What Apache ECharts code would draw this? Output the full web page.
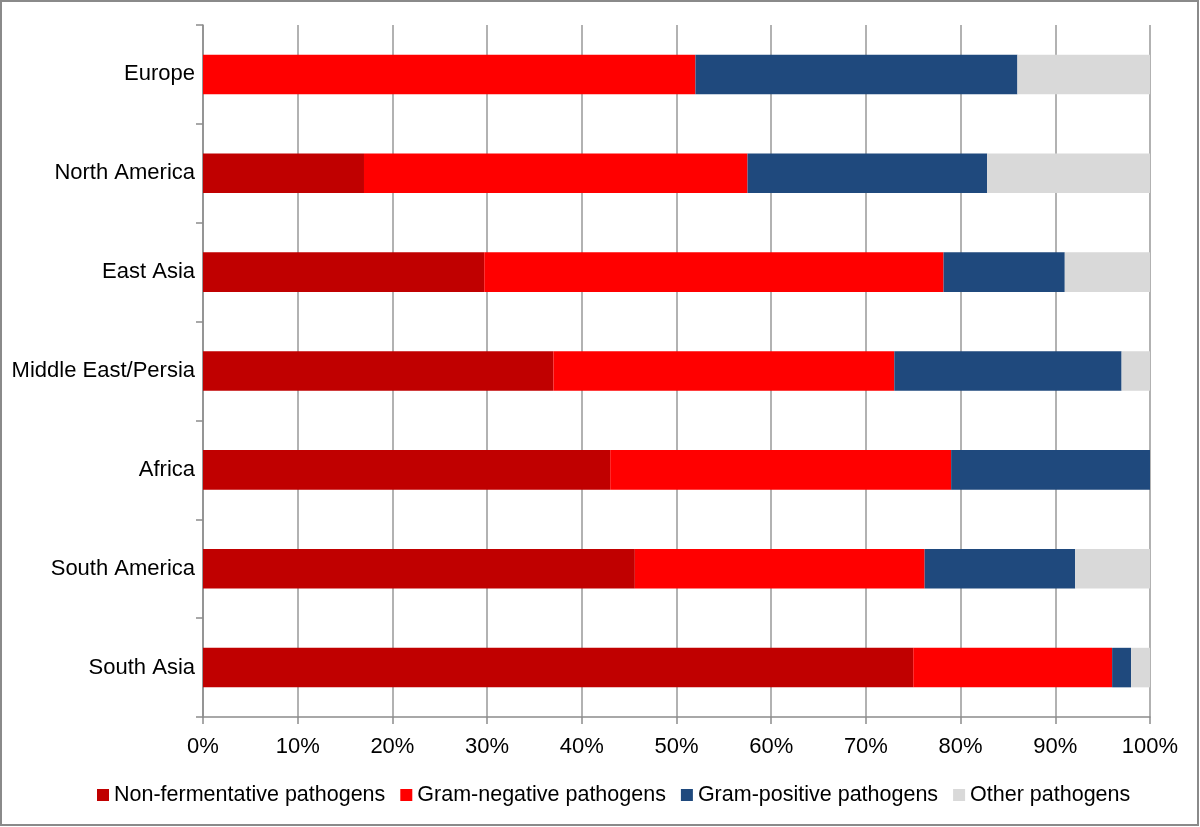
<!DOCTYPE html>
<html>
<head>
    <meta charset="utf-8">
    <title>Pathogens by region</title>
    <script src="https://cdn.jsdelivr.net/npm/echarts@6/dist/echarts.min.js"></script>
    <style>
        html, body { margin: 0; padding: 0; background: #ffffff; }
        #chart { width: 1200px; height: 827px; }
    </style>
</head>
<body>
<div id="chart"></div>
<script>
    // regions, top to bottom
    var regions = ['Europe', 'North America', 'East Asia', 'Middle East/Persia', 'Africa', 'South America', 'South Asia'];
    // shares in %
    var nonFermentative = [0, 17, 29.7, 37, 43, 45.6, 75];
    var gramNegative = [52, 40.5, 48.5, 36, 36, 30.6, 21];
    var gramPositive = [34, 25.3, 12.8, 24, 21, 15.9, 2];
    var otherPathogens = [14, 17.2, 9, 3, 0, 7.9, 2];
    var seriesNames = ['Non-fermentative pathogens', 'Gram-negative pathogens', 'Gram-positive pathogens', 'Other pathogens'];
    var seriesColors = ['#c00000', '#ff0000', '#1f497d', '#d9d9d9'];

    var font = 'Liberation Sans, Arial, Helvetica, sans-serif';
    var chart = echarts.init(document.getElementById('chart'));

    var allValues = [nonFermentative, gramNegative, gramPositive, otherPathogens];
    var series = [];
    for (var i = 0; i < allValues.length; i++) {
        series.push({
            name: seriesNames[i],
            type: 'bar',
            stack: 'total',
            barWidth: '40%',
            itemStyle: {color: seriesColors[i]},
            data: allValues[i]
        });
    }

    var option = {
        animation: false,
        textStyle: {fontFamily: font},
        graphic: [{
            type: 'rect',
            shape: {x: 1, y: 1, width: 1197, height: 824},
            style: {fill: 'none', stroke: '#8a8a8a', lineWidth: 2},
            silent: true
        }],
        grid: {left: 203, right: 50, top: 25, bottom: 110, containLabel: false},
        legend: {
            data: seriesNames,
            top: 779,
            left: 92,
            icon: 'rect',
            itemWidth: 12,
            itemHeight: 12,
            itemGap: 15,
            textStyle: {fontSize: 21.5, color: '#000', fontFamily: font}
        },
        xAxis: {
            type: 'value',
            min: 0,
            max: 100,
            interval: 10,
            axisLine: {show: true, lineStyle: {color: '#8c8c8c', width: 1.5}},
            axisTick: {show: true, length: 7, lineStyle: {color: '#8c8c8c', width: 1.5}},
            axisLabel: {formatter: '{value}%', fontSize: 22, color: '#000', margin: 19},
            splitLine: {show: true, lineStyle: {color: '#999999', width: 1.5}}
        },
        yAxis: {
            type: 'category',
            inverse: true,
            data: regions,
            axisLine: {show: true, lineStyle: {color: '#8c8c8c', width: 1.5}},
            axisTick: {show: true, length: 7, lineStyle: {color: '#8c8c8c', width: 1.5}},
            axisLabel: {fontSize: 22, color: '#000', margin: 8}
        },
        series: series
    };
    chart.setOption(option);
</script>
</body>
</html>
